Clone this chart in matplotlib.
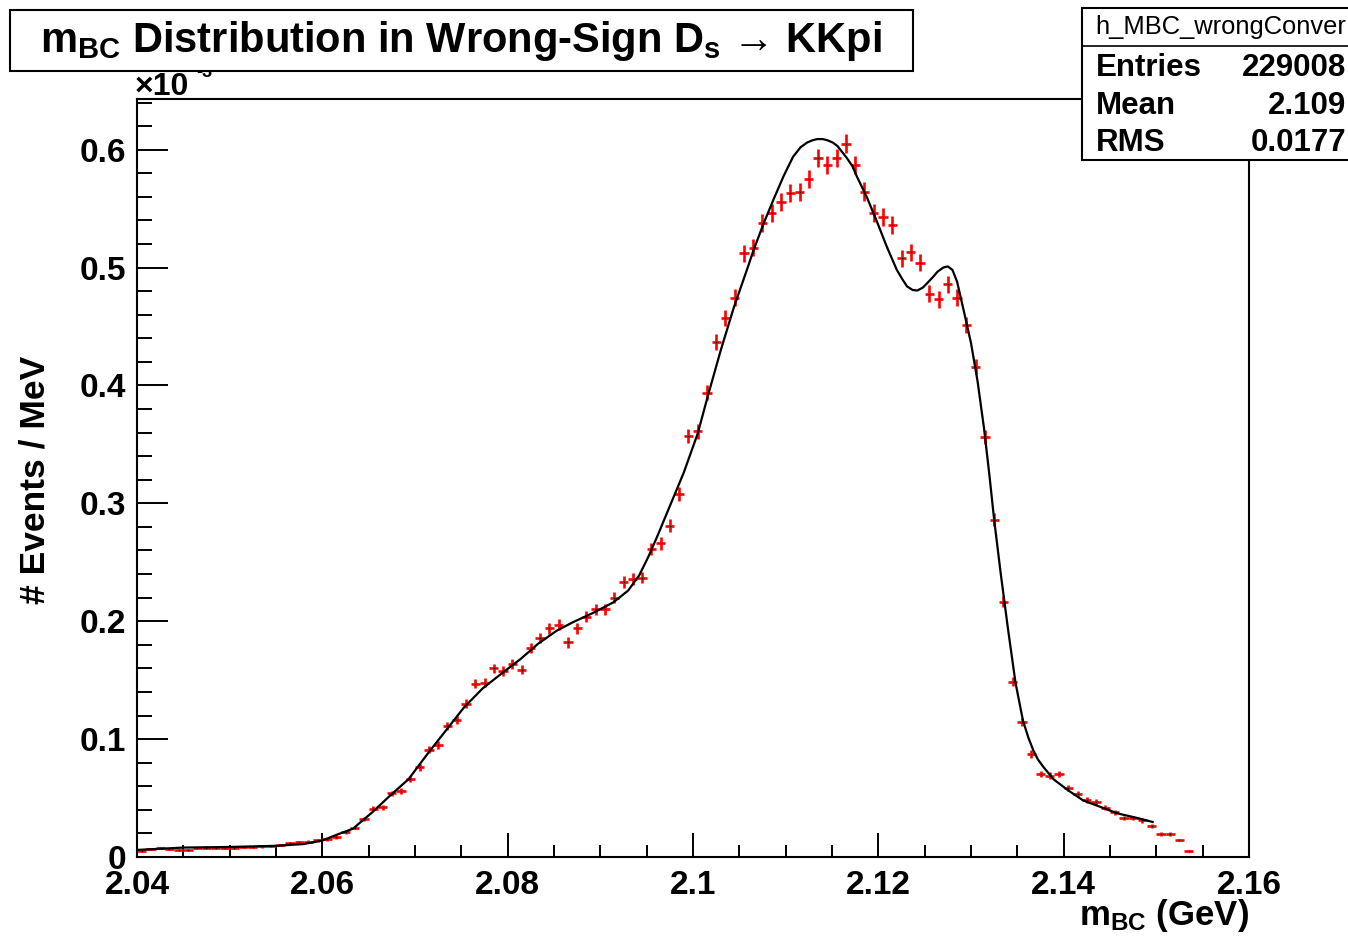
import numpy as np
import matplotlib
matplotlib.use("Agg")
import matplotlib.pyplot as plt
from matplotlib.patches import Rectangle
from matplotlib.lines import Line2D
from matplotlib.ticker import MultipleLocator, FixedLocator, FixedFormatter

plt.rcParams['font.family'] = ['Liberation Sans', 'DejaVu Sans']
plt.rcParams['mathtext.fontset'] = 'custom'
plt.rcParams['mathtext.rm'] = 'Liberation Sans:bold'
plt.rcParams['mathtext.it'] = 'Liberation Sans:bold'
plt.rcParams['mathtext.bf'] = 'Liberation Sans:bold'

# ---- histogram: 1 MeV bins starting at 2.040 GeV (values in units of 1e-3 / MeV) ----
x_lo, x_hi = 2.04, 2.16
bin_width = 0.001
bin_contents = [
    0.005, 0.007, 0.0075, 0.007, 0.006, 0.006, 0.0075, 0.008, 0.008, 0.008,
    0.008, 0.0085, 0.0085, 0.009, 0.0095, 0.010, 0.012, 0.0125, 0.013, 0.014,
    0.015, 0.017, 0.021, 0.025, 0.032, 0.041, 0.042, 0.054, 0.056, 0.066,
    0.076, 0.091, 0.095, 0.111, 0.116, 0.130, 0.147, 0.148, 0.160, 0.158,
    0.164, 0.159, 0.177, 0.186, 0.194, 0.197,
    0.182, 0.194, 0.204, 0.210, 0.210, 0.220, 0.233, 0.236, 0.237, 0.261,
    0.266, 0.281, 0.308, 0.357, 0.361,
    0.394, 0.437, 0.457, 0.4745, 0.512, 0.517, 0.538, 0.546, 0.556, 0.563,
    0.564, 0.575, 0.593, 0.587, 0.593, 0.605, 0.587, 0.5645, 0.546, 0.543, 0.536,
    0.508, 0.513, 0.504, 0.478, 0.473, 0.486, 0.4745, 0.4515, 0.416, 0.3565,
    0.286, 0.2165,
    0.1486, 0.1146, 0.0874, 0.0705, 0.069, 0.0705, 0.0586, 0.0535, 0.0484, 0.0467,
    0.0416, 0.038, 0.033, 0.033, 0.031, 0.026, 0.0195, 0.0195, 0.0144, 0.005,
]

# ---- fitted shape, sampled along the curve ----
fit_x = [2.0400, 2.0450, 2.0500, 2.0550, 2.0580, 2.0600, 2.0615, 2.0633, 2.0654,
         2.0673, 2.0693, 2.0714, 2.0734, 2.0753, 2.0773, 2.0794, 2.0814, 2.0833,
         2.0853, 2.0870, 2.0892, 2.0914, 2.0930, 2.0942, 2.0952, 2.0962, 2.0972,
         2.0990, 2.1005, 2.1016, 2.1030, 2.1044, 2.1059, 2.1065, 2.1076, 2.1087,
         2.1098, 2.1108, 2.1116, 2.1123, 2.1129, 2.1134, 2.1140, 2.1145, 2.1151,
         2.1156, 2.1161, 2.1166, 2.1172, 2.1177, 2.1188, 2.1199, 2.1209, 2.1215,
         2.1220, 2.1226, 2.1231, 2.1237, 2.1242, 2.1248, 2.1253, 2.1259, 2.1264,
         2.1270, 2.1275, 2.1280, 2.1285, 2.1292, 2.1300, 2.1307, 2.1314, 2.1320,
         2.1325, 2.1332, 2.1340, 2.1348, 2.1356, 2.1362, 2.1367, 2.1372, 2.1378,
         2.1389, 2.1404, 2.1421, 2.1440, 2.1458, 2.1480, 2.1496]
fit_y = [0.006, 0.008, 0.0085, 0.0095, 0.011, 0.014, 0.0187, 0.024, 0.038,
         0.052, 0.066, 0.088, 0.108, 0.127, 0.143, 0.156, 0.168, 0.181,
         0.192, 0.199, 0.207, 0.216, 0.226, 0.239, 0.255, 0.273, 0.292,
         0.326, 0.359, 0.391, 0.430, 0.466, 0.500, 0.514, 0.537, 0.558,
         0.578, 0.594, 0.602, 0.606, 0.608, 0.609, 0.609, 0.608, 0.606,
         0.603, 0.598, 0.593, 0.586, 0.577, 0.559, 0.538, 0.518, 0.507,
         0.498, 0.490, 0.484, 0.481, 0.4805, 0.483, 0.487, 0.492, 0.4966,
         0.500, 0.501, 0.498, 0.488, 0.464, 0.436, 0.404, 0.364, 0.323,
         0.286, 0.241, 0.193, 0.148, 0.116, 0.101, 0.091, 0.083, 0.0765,
         0.066, 0.057, 0.048, 0.0424, 0.037, 0.033, 0.0297]

# ---- statistics box ----
hist_name = "h_MBC_wrongConver"
n_entries = 229008
mean_text = "2.109"
rms_text = "0.0177"

x_ticks = [2.04, 2.06, 2.08, 2.10, 2.12, 2.14, 2.16]
x_tick_labels = ["2.04", "2.06", "2.08", "2.1", "2.12", "2.14", "2.16"]
y_ticks = [0.0, 0.1, 0.2, 0.3, 0.4, 0.5, 0.6]
y_tick_labels = ["0", "0.1", "0.2", "0.3", "0.4", "0.5", "0.6"]

W, H = 1348, 939
fig = plt.figure(figsize=(W / 100, H / 100), dpi=100)
fig.patch.set_facecolor("white")


def fx(px):
    return px / W


def fy(py):
    return 1 - py / H


ax = fig.add_axes([fx(137), fy(857), fx(1249) - fx(137), fy(99) - fy(857)])

vals = np.asarray(bin_contents)
centers = x_lo + bin_width * (np.arange(len(vals)) + 0.5)
scale = n_entries / vals.sum()
errors = np.sqrt(vals * scale) / scale

ax.errorbar(centers, vals, xerr=bin_width / 2, yerr=errors, fmt="none",
            ecolor="#ff0000", elinewidth=1.9, capsize=0, zorder=2)
ax.plot(centers, vals, linestyle="none", marker="s", ms=0.9, mew=0,
        color="black", zorder=2.5)
ax.plot(fit_x, fit_y, color="black", lw=1.6, zorder=3, solid_joinstyle="round")

ax.set_xlim(x_lo, x_hi)
ax.set_ylim(0, 0.643)

ax.xaxis.set_major_locator(FixedLocator(x_ticks))
ax.xaxis.set_major_formatter(FixedFormatter(x_tick_labels))
ax.xaxis.set_minor_locator(MultipleLocator(0.005))
ax.yaxis.set_major_locator(FixedLocator(y_ticks))
ax.yaxis.set_major_formatter(FixedFormatter(y_tick_labels))
ax.yaxis.set_minor_locator(MultipleLocator(0.02))

ax.tick_params(which="both", direction="in", top=False, right=False, width=1.4,
               colors="black")
ax.tick_params(axis="x", which="major", length=17, pad=9)
ax.tick_params(axis="x", which="minor", length=8.5)
ax.tick_params(axis="y", which="major", length=22, pad=8)
ax.tick_params(axis="y", which="minor", length=11)
for lab in ax.get_xticklabels() + ax.get_yticklabels():
    lab.set_fontsize(24)
    lab.set_fontweight("bold")
for sp in ax.spines.values():
    sp.set_linewidth(1.5)

# axis titles
fig.text(fx(35), fy(480), "# Events / MeV", rotation=90, ha="center",
         va="center", fontsize=25.5, fontweight="bold")
fig.text(fx(1249), fy(925), r"$\mathrm{m}_{\mathrm{BC}}$ (GeV)", ha="right",
         va="baseline", fontsize=25, fontweight="bold")

# axis exponent (partly hidden under the title box)
fig.text(fx(135), fy(95), "\u00d710", ha="left", va="baseline", fontsize=23,
         fontweight="bold", zorder=4)
fig.text(fx(196), fy(77), "-3", ha="left", va="baseline", fontsize=13,
         fontweight="bold", zorder=4)

# title box
fig.patches.append(Rectangle((fx(10), fy(71)), fx(913) - fx(10), fy(10) - fy(71),
                             transform=fig.transFigure, facecolor="white",
                             edgecolor="black", lw=1.5, zorder=5))
title = (r"$\mathrm{m}_{\mathrm{BC}}$ Distribution in Wrong-Sign "
         r"$\mathrm{D}_{\mathrm{s}}$ " + "\u2192 KKpi")
fig.text(fx(461), fy(52), title, ha="center", va="baseline", fontsize=30,
         fontweight="bold", zorder=6)

# statistics box
fig.patches.append(Rectangle((fx(1082), fy(160)), fx(1400) - fx(1082), fy(8) - fy(160),
                             transform=fig.transFigure, facecolor="white",
                             edgecolor="black", lw=1.5, zorder=5))
fig.lines.append(Line2D([fx(1082), fx(1400)], [fy(46), fy(46)],
                        transform=fig.transFigure, color="black", lw=1.2,
                        zorder=6))
fig.text(fx(1095), fy(34), hist_name, ha="left", va="baseline", fontsize=18.4,
         zorder=7)
rows = [("Entries", f"{n_entries}"), ("Mean", mean_text), ("RMS", rms_text)]
for i, (k, v) in enumerate(rows):
    base = 76 + i * 37.5
    fig.text(fx(1096), fy(base), k, ha="left", va="baseline", fontsize=22.5,
             fontweight="bold", zorder=7)
    fig.text(fx(1346), fy(base), v, ha="right", va="baseline", fontsize=22.5,
             fontweight="bold", zorder=7)

fig.savefig("out.png", dpi=100, facecolor="white")
